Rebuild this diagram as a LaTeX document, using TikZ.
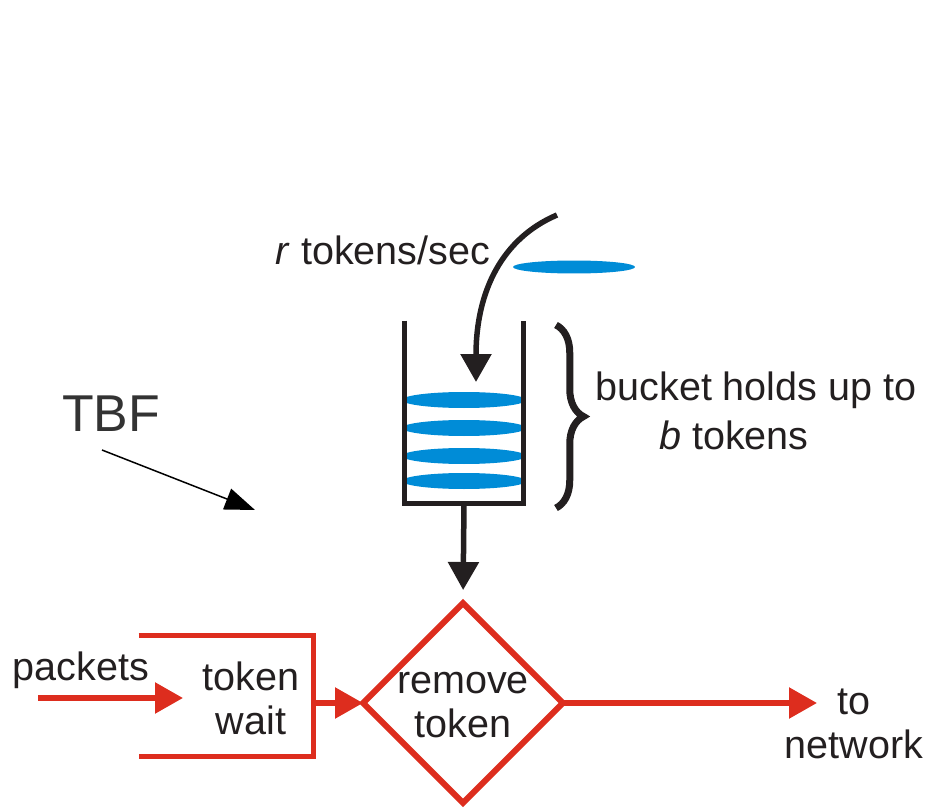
\documentclass[tikz,border=0pt]{standalone}
\usepackage{fontspec}
\setmainfont{Liberation Sans}
\usepackage{xcolor}
\usetikzlibrary{shapes.geometric,arrows.meta,positioning,calc,decorations.pathreplacing}

\definecolor{tokenblue}{RGB}{0,140,215}
\definecolor{flowred}{RGB}{221,45,30}
\definecolor{inkblack}{RGB}{35,31,32}
\definecolor{tbfgray}{RGB}{51,51,51}

\begin{document}
\begin{tikzpicture}[x=0.02cm, y=-0.02cm,
  textlabel/.style={font=\fontsize{22.5}{25}\selectfont, text=inkblack,
                    align=center, inner sep=0pt},
  token/.style={ellipse, fill=tokenblue, inner sep=0pt,
                minimum width=2.48cm, minimum height=0.32cm},
  bucketbox/.style={rectangle, minimum width=2.4cm, minimum height=3.66cm,
                    inner sep=0pt, outer sep=0pt},
  bucketwall/.style={draw=inkblack, line width=0.1cm},
  blackflow/.style={draw=inkblack, line width=0.11cm,
                    -{Triangle[length=0.56cm, width=0.6cm]}},
  redflow/.style={draw=flowred, line width=0.11cm,
                  -{Triangle[length=0.56cm, width=0.6cm]}},
  gate/.style={diamond, draw=flowred, line width=0.12cm, minimum width=4cm,
               minimum height=4cm, inner sep=0pt, outer sep=0pt},
  waitbox/.style={rectangle, minimum width=3.5cm, minimum height=2.44cm,
                  inner sep=0pt, outer sep=0pt},
  pointer/.style={draw=black, line width=0.03cm,
                  -{Triangle[length=0.6cm, width=0.44cm]}},
  bracestyle/.style={draw=inkblack, line width=0.14cm, decorate,
                     decoration={brace, amplitude=0.55cm}},
]
  \useasboundingbox (0,0) rectangle (927,811);

  % Token source and arrival rate
  \node[token, minimum width=2.44cm, minimum height=0.26cm] (falling) at (574,267) {};
  \node[textlabel] (rate) at (383,250) {\textit{r} tokens/sec};
  \coordinate (dropstart) at (557,215);
  \coordinate (dropin) at (476,382);
  \draw[blackflow] (dropstart) .. controls (503,238) and (476,290) .. (dropin);

  % Bucket with stored tokens
  \node[bucketbox] (bucket) at (464,412) {};
  \foreach \y [count=\i] in {400,428,456,481}
    \node[token] (tok\i) at (464,\y) {};
  \draw[bucketwall] (bucket.north west) -- (bucket.south west)
                    -- (bucket.south east) -- (bucket.north east);

  % Bucket depth
  \coordinate (bracetop) at (556,325);
  \coordinate (bracebot) at (556,508);
  \draw[bracestyle] (bracetop) -- (bracebot);
  \node[textlabel] (capacity) at (756,390) {bucket holds up to};
  \node[textlabel] (capacityb) at (734,435) {\textit{b} tokens};

  % Packet path
  \node[waitbox] (wait) at (226,696) {};
  \node[textlabel] (waittext) at (251,698) {token\\wait};
  \draw[flowred, line width=0.1cm] (wait.north west) -- (wait.north east)
        -- (wait.south east) -- (wait.south west);
  \node[gate] (remove) at (463,703) {};
  \node[textlabel] (removetext) at (463,705) {remove\\token};

  \node[textlabel] (packets) at (81,670) {packets};
  \coordinate (pktin) at (38,698);
  \coordinate (pkttip) at (183,698);
  \draw[redflow] (pktin) -- (pkttip);
  \draw[redflow] (wait.east |- remove.west) -- (remove.west);

  \coordinate (netout) at (817,703);
  \node[textlabel] (network) at (854,724) {to\\network};
  \draw[redflow] (remove.east) -- (netout);

  % Tokens feed the gate
  \draw[blackflow, shorten >=0.26cm] (bucket.south) -- (remove.north);

  % TBF marker
  \node[font=\fontsize{29.5}{32}\selectfont, text=tbfgray, inner sep=0pt] (tbf) at (111,414) {TBF};
  \coordinate (tbftail) at (102,450);
  \coordinate (tbfhead) at (255,510);
  \draw[pointer] (tbftail) -- (tbfhead);

\end{tikzpicture}
\end{document}
